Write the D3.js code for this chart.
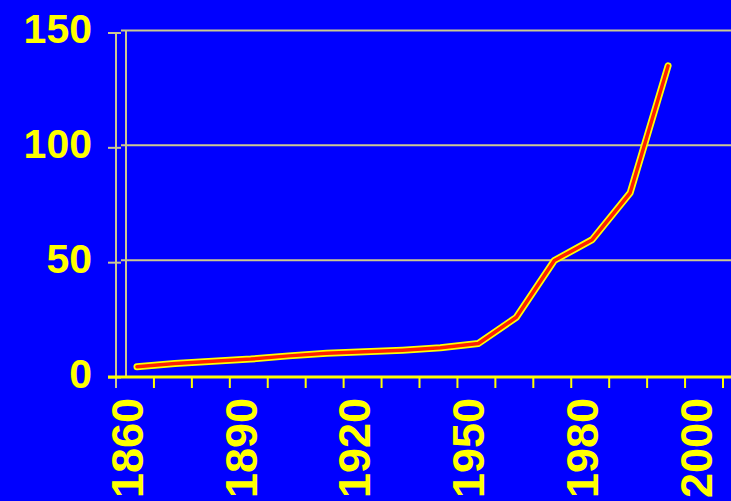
<!DOCTYPE html>
<html>
<head>
<meta charset="utf-8">
<script src="https://cdn.jsdelivr.net/npm/d3@7"></script>
<style>
  body { margin: 0; background: #0000ff; }
  svg { display: block; }
</style>
</head>
<body>
<div id="chart"></div>
<script>
const categories = ["1860", "1870", "1880", "1890", "1900", "1910", "1920", "1930",
  "1940", "1950", "1960", "1970", "1980", "1990", "1995", "2000"];
const values = [4.5, 5.9, 6.9, 7.8, 9.2, 10.3, 11.0, 11.7, 12.7, 14.6, 26, 50.7, 59.8, 80.2, 135.5];
const shownLabels = ["1860", "1890", "1920", "1950", "1980", "2000"];
const yTicks = [0, 50, 100, 150];

const width = 731;
const height = 501;
const depthX = 10;
const depthY = 2;
const gridColor = "#ccc890";
const yellow = "#ffff00";
const font = "'Liberation Sans', Arial, sans-serif";

const svg = d3
  .select("#chart")
  .append("svg")
  .attr("width", width)
  .attr("height", height);

svg.append("rect").attr("width", width).attr("height", height).attr("fill", "#0000ff");

const xScale = d3.scaleBand().domain(categories).range([116, 723]).padding(0);
const yScale = d3.scaleLinear().domain([0, 150]).range([377, 32.5]);

const left = xScale.range()[0];

// back wall: gridlines and inner edge
svg
  .selectAll(".grid")
  .data(yTicks.filter((d) => d > 0))
  .enter()
  .append("line")
  .attr("class", "grid")
  .attr("x1", left + 5)
  .attr("x2", width)
  .attr("y1", (d) => yScale(d) - depthY)
  .attr("y2", (d) => yScale(d) - depthY)
  .attr("stroke", gridColor)
  .attr("stroke-width", 2);

svg
  .append("line")
  .attr("x1", left + depthX)
  .attr("x2", left + depthX)
  .attr("y1", yScale(150) - depthY)
  .attr("y2", yScale(0))
  .attr("stroke", gridColor)
  .attr("stroke-width", 2);

// y axis
const yAxis = d3
  .axisLeft(yScale)
  .tickValues(yTicks)
  .tickSize(8)
  .tickSizeOuter(0)
  .tickPadding(16);

const yg = svg.append("g").attr("transform", `translate(${left}, 0)`).call(yAxis);
yg.select(".domain").attr("stroke", gridColor).attr("stroke-width", 2).attr("d", `M0,${yScale(150)}V388`);
yg.selectAll(".tick line").attr("x1", -8).attr("x2", 5).attr("stroke", gridColor).attr("stroke-width", 2);
yg.selectAll(".tick text")
  .attr("fill", yellow)
  .attr("font-family", font)
  .attr("font-weight", "bold")
  .attr("font-size", 41)
  .attr("y", -3);

// x axis
const xg = svg.append("g");
xg.append("line")
  .attr("x1", 108)
  .attr("x2", width)
  .attr("y1", yScale(0))
  .attr("y2", yScale(0))
  .attr("stroke", yellow)
  .attr("stroke-width", 3);

const tickPos = categories.map((c) => xScale(c)).concat([xScale.range()[1]]);
xg.selectAll(".xtick")
  .data(tickPos.slice(1))
  .enter()
  .append("line")
  .attr("class", "xtick")
  .attr("x1", (d) => d)
  .attr("x2", (d) => d)
  .attr("y1", yScale(0))
  .attr("y2", yScale(0) + 11)
  .attr("stroke", yellow)
  .attr("stroke-width", 2);

xg.selectAll(".xlabel")
  .data(shownLabels)
  .enter()
  .append("text")
  .attr("class", "xlabel")
  .attr("transform", (d) => `translate(${xScale(d) + xScale.bandwidth() / 2 - 8}, 398) rotate(-90)`)
  .attr("text-anchor", "end")
  .attr("dy", "0.35em")
  .attr("fill", yellow)
  .attr("font-family", font)
  .attr("font-weight", "bold")
  .attr("font-size", 45)
  .text((d) => d);

// data line, yellow rim with red core
const points = values.map((v, i) => [categories[i], v]);
const line = d3
  .line()
  .x((d) => xScale(d[0]) + xScale.bandwidth() / 2 + 2)
  .y((d) => yScale(d[1]));

svg
  .append("path")
  .datum(points)
  .attr("d", line)
  .attr("fill", "none")
  .attr("stroke", yellow)
  .attr("stroke-width", 7)
  .attr("stroke-linejoin", "round")
  .attr("stroke-linecap", "round");

svg
  .append("path")
  .datum(points)
  .attr("d", line)
  .attr("fill", "none")
  .attr("stroke", "#ff2000")
  .attr("stroke-width", 3.5)
  .attr("stroke-linejoin", "round")
  .attr("stroke-linecap", "round");
</script>
</body>
</html>
